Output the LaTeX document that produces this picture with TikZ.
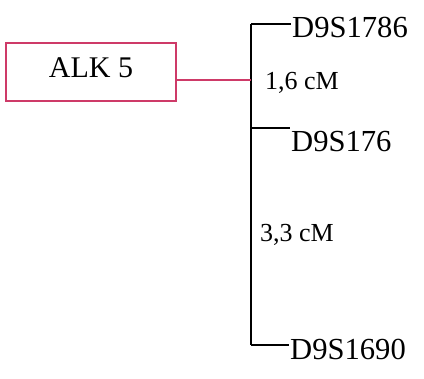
\documentclass[tikz,border=0pt]{standalone}
\usepackage{fontspec}
\setmainfont{Liberation Serif}
\definecolor{alkred}{RGB}{206,58,104}
\begin{document}
\begin{tikzpicture}[x=1pt,y=1pt,
  marker/.style={anchor=base west,inner sep=0pt,inner xsep=1pt,font=\fontsize{30.6}{36}\selectfont},
  dist/.style={anchor=base west,inner sep=0pt,font=\fontsize{26}{30}\selectfont},
  genebox/.style={draw=alkred,line width=1.8pt,minimum width=170pt,minimum height=58pt,
    text height=20pt,text depth=9pt,inner sep=0pt,font=\fontsize{30}{36}\selectfont},
  spine/.style={line width=1.8pt,black},
  link/.style={line width=1.8pt,alkred}]
\useasboundingbox (0,0) rectangle (424,-379);
\node[genebox] (alk) at (91,-72) {ALK 5};
\coordinate (t1) at (251,-24);
\coordinate (t2) at (251,-128);
\coordinate (t3) at (251,-345);
\coordinate (j) at (251,-80);
\node[marker] (d1) at (291,-38) {D9S1786};
\node[marker] (d2) at (290,-152) {D9S176};
\node[marker] (d3) at (289,-360) {D9S1690};
\node[dist] (c1) at (265,-90) {1,6 cM};
\node[dist] (c2) at (260,-242) {3,3 cM};
\draw[spine] (t1) -- (t3);
\draw[spine] (t1) -- (t1 -| d1.west);
\draw[spine] (t2) -- (t2 -| d2.west);
\draw[spine] (t3) -- (t3 -| d3.west);
\draw[link] (alk.east |- j) -- (j);
\end{tikzpicture}
\end{document}
